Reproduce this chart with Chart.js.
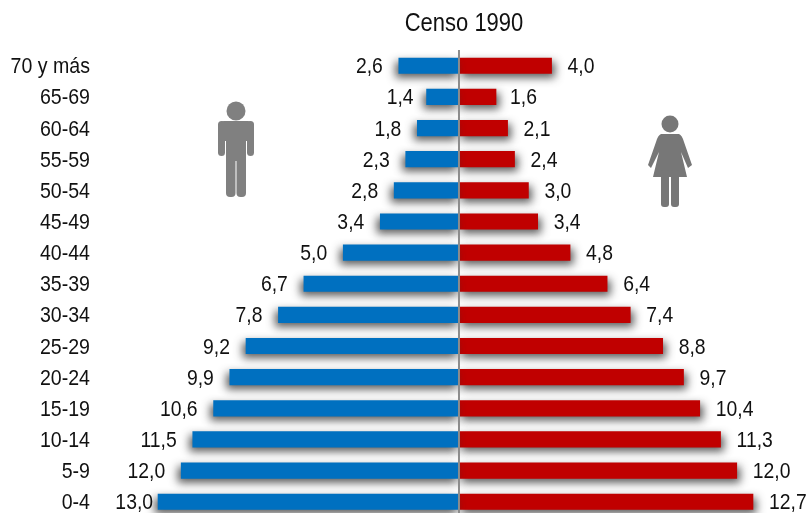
<!DOCTYPE html>
<html><head><meta charset="utf-8">
<style>html,body{margin:0;padding:0;background:#fff;overflow:hidden;width:809px;height:513px}canvas{display:block}</style>
<script src="https://cdn.jsdelivr.net/npm/chart.js@4"></script>
</head><body><canvas id="c" width="809" height="530"></canvas>
<script>
const categories = ["70 y más","65-69","60-64","55-59","50-54","45-49","40-44","35-39","30-34","25-29","20-24","15-19","10-14","5-9","0-4"];
const hombres = [2.6,1.4,1.8,2.3,2.8,3.4,5.0,6.7,7.8,9.2,9.9,10.6,11.5,12.0,13.0];
const mujeres = [4.0,1.6,2.1,2.4,3.0,3.4,4.8,6.4,7.4,8.8,9.7,10.4,11.3,12.0,12.7];
const titulo = "Censo 1990";
const FONT = '"Liberation Sans",sans-serif';

function man(ctx){
  ctx.fillStyle='#808080'; ctx.filter='blur(0.7px)';
  ctx.beginPath(); ctx.arc(236,111,9.5,0,7); ctx.fill();
  ctx.beginPath(); ctx.roundRect(218,121,36,20,6); ctx.fill();
  ctx.beginPath(); ctx.roundRect(218,121,7,35,3.5); ctx.fill();
  ctx.beginPath(); ctx.roundRect(247,121,7,35,3.5); ctx.fill();
  ctx.beginPath(); ctx.rect(226,125,20,36); ctx.fill();
  ctx.beginPath(); ctx.roundRect(226,150,9.5,47,4); ctx.fill();
  ctx.beginPath(); ctx.roundRect(236.5,150,9.5,47,4); ctx.fill();
  ctx.filter='none';
}
function woman(ctx){
  ctx.fillStyle='#777'; ctx.filter='blur(0.7px)';
  ctx.beginPath(); ctx.arc(670,124,8.5,0,7); ctx.fill();
  ctx.beginPath();
  ctx.moveTo(661,134); ctx.lineTo(679,134);
  ctx.quadraticCurveTo(682,135,684,142); ctx.lineTo(692,165); ctx.lineTo(688,168);
  ctx.lineTo(681,152); ctx.lineTo(687,177); ctx.lineTo(653,177); ctx.lineTo(659,152);
  ctx.lineTo(651,168); ctx.lineTo(648,165); ctx.lineTo(656,142);
  ctx.quadraticCurveTo(658,135,661,134); ctx.closePath(); ctx.fill();
  ctx.beginPath(); ctx.roundRect(661,170,8,37,3); ctx.fill();
  ctx.beginPath(); ctx.roundRect(671,170,8,37,3); ctx.fill();
  ctx.filter='none';
}
function narrow(c,str,x,y,align,sx){
  c.save(); c.translate(x,y); c.scale(sx,1); c.textAlign=align; c.fillText(str,0,0); c.restore();
}

const decor = {
  id:'decor',
  beforeDatasetDraw(chart,args){
    const c=chart.ctx; c.save();
    c.shadowColor='rgba(50,50,50,0.8)'; c.shadowBlur=8;
    c.shadowOffsetX=args.index===0?-3:3; c.shadowOffsetY=4;
  },
  afterDatasetDraw(chart){ chart.ctx.restore(); },
  afterDatasetsDraw(chart){
    const c=chart.ctx, x=chart.scales.x, y=chart.scales.y, x0=x.getPixelForValue(0);
    c.save();
    c.strokeStyle='#8c8c8c'; c.lineWidth=2;
    c.beginPath(); c.moveTo(x0,50); c.lineTo(x0,chart.height); c.stroke();
    man(c); woman(c);
    c.fillStyle='#111'; c.textBaseline='middle';
    c.font='26px '+FONT;
    narrow(c,titulo,464,24,'center',0.846);
    c.font='22px '+FONT;
    categories.forEach((cat,i)=>{
      const py=y.getPixelForValue(i)+1.5;
      narrow(c,cat,90,py,'right',0.89);
      const gapL=hombres[i]>=13?5:(hombres[i]===1.4?13:16);
      const gapR=mujeres[i]===1.6?14:16;
      narrow(c,hombres[i].toFixed(1).replace('.',','),x.getPixelForValue(-hombres[i])-gapL,py,'right',0.88);
      narrow(c,mujeres[i].toFixed(1).replace('.',','),x.getPixelForValue(mujeres[i])+gapR,py,'left',0.88);
    });
    c.restore();
  }
};

new Chart(document.getElementById('c'),{
  type:'bar',
  data:{labels:categories,datasets:[
    {label:'Hombres',data:hombres.map(v=>-v),backgroundColor:'#0070C0',barThickness:15.5},
    {label:'Mujeres',data:mujeres,backgroundColor:'#C00000',barThickness:15.5}
  ]},
  plugins:[decor],
  options:{
    indexAxis:'y',responsive:false,animation:false,
    layout:{padding:{top:50.2,bottom:12.7,left:0,right:0}},
    plugins:{legend:{display:false},tooltip:{enabled:false},title:{display:false}},
    scales:{
      x:{display:false,min:-15.68,max:15.12,stacked:true},
      y:{stacked:true,grid:{display:false},border:{display:false},
         afterFit(s){s.width=96;},
         ticks:{display:false}}
    }
  }
});
</script></body></html>
